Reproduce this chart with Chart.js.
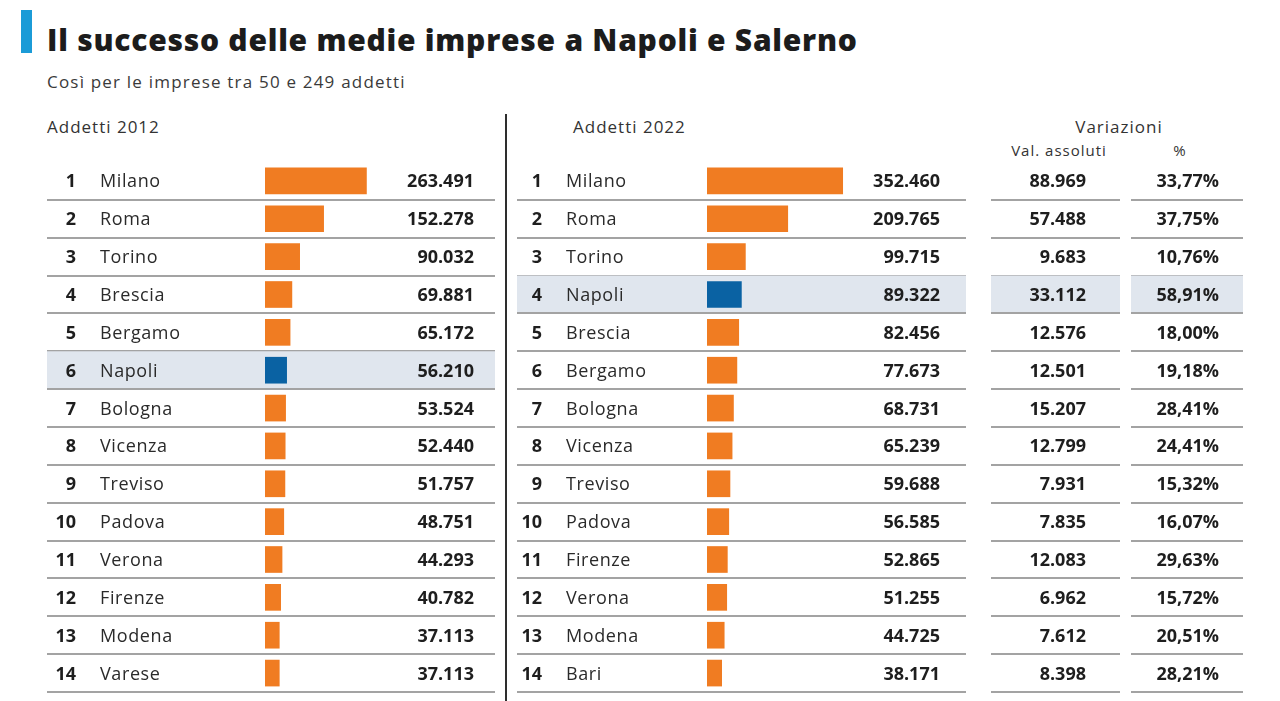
<!DOCTYPE html>
<html lang="it">
<head>
<meta charset="utf-8">
<title>Il successo delle medie imprese a Napoli e Salerno</title>
<script src="https://cdn.jsdelivr.net/npm/chart.js@4.4.1/dist/chart.umd.min.js"></script>
<style>
  html, body { margin: 0; padding: 0; background: #fff; }
  body {
    width: 1280px; height: 701px; position: relative; overflow: hidden;
    font-family: "Open Sans", sans-serif; color: #2b2b2b;
  }
  .txt { position: absolute; margin: 0; white-space: nowrap; line-height: 1; }
  .accent { position: absolute; left: 21px; top: 10px; width: 11px; height: 43px; background: #1b9bd7; }
  h1.txt { left: 47px; top: 25px; font-size: 30px; font-weight: 800; color: #1c1c1c; letter-spacing: 0.75px; }
  .sub { left: 47px; top: 73px; font-size: 17px; color: #3a3a3a; letter-spacing: 1.2px; }
  .head { top: 118px; font-size: 17px; color: #333; letter-spacing: 1px; }
  .head2 { top: 143px; font-size: 15px; color: #333; letter-spacing: 1px; }
  .divider { position: absolute; left: 505px; top: 114px; width: 2px; height: 587px; background: #2e2e2e; }
  canvas { position: absolute; top: 0; }
</style>
</head>
<body>
<div class="accent"></div>
<h1 class="txt">Il successo delle medie imprese a Napoli e Salerno</h1>
<div class="txt sub">Così per le imprese tra 50 e 249 addetti</div>
<div class="txt head" style="left:47px">Addetti 2012</div>
<div class="txt head" style="left:573px">Addetti 2022</div>
<div class="txt head" style="left:1119px; transform:translateX(-50%)">Variazioni</div>
<div class="txt head2" style="left:1059px; transform:translateX(-50%)">Val. assoluti</div>
<div class="txt head2" style="left:1180px; transform:translateX(-50%)">%</div>
<div class="divider"></div>
<canvas id="left" width="507" height="701" style="left:0"></canvas>
<canvas id="right" width="773" height="701" style="left:507px"></canvas>
<script>
const cities2012 = ["Milano", "Roma", "Torino", "Brescia", "Bergamo", "Napoli", "Bologna",
  "Vicenza", "Treviso", "Padova", "Verona", "Firenze", "Modena", "Varese"]
const addetti2012 = [263491, 152278, 90032, 69881, 65172, 56210, 53524,
  52440, 51757, 48751, 44293, 40782, 37113, 37113]

const cities2022 = ["Milano", "Roma", "Torino", "Napoli", "Brescia", "Bergamo", "Bologna",
  "Vicenza", "Treviso", "Padova", "Firenze", "Verona", "Modena", "Bari"]
const addetti2022 = [352460, 209765, 99715, 89322, 82456, 77673, 68731,
  65239, 59688, 56585, 52865, 51255, 44725, 38171]
const variazioniAssolute = [88969, 57488, 9683, 33112, 12576, 12501, 15207,
  12799, 7931, 7835, 12083, 6962, 7612, 8398]
const variazioniPct = [33.77, 37.75, 10.76, 58.91, 18.00, 19.18, 28.41,
  24.41, 15.32, 16.07, 29.63, 15.72, 20.51, 28.21]

const highlight = "Napoli"

const orange = "#f07c22"
const blue = "#0a62a3"
const rowFill = "#e0e6ee"
const lineColor = "#a3a3a3"
const font = '"Open Sans", sans-serif'

const fmtInt = n => String(n).replace(/\B(?=(\d{3})+(?!\d))/g, ".")
const fmtPct = n => n.toFixed(2).replace(".", ",") + "%"

// draws row fills, separators and all the table text around the bars
const tablePlugin = {
  id: "table",
  beforeDatasetsDraw(chart, args, opts) {
    const { ctx } = chart
    const y = chart.scales.y
    const labels = chart.data.labels
    const band = labels.length > 1 ? y.getPixelForValue(1) - y.getPixelForValue(0) : 38
    ctx.save()
    labels.forEach((name, i) => {
      const cy = y.getPixelForValue(i)
      if (name === highlight) {
        ctx.fillStyle = rowFill
        opts.segments.forEach(([x0, x1]) => ctx.fillRect(x0, cy - band / 2, x1 - x0, band))
      }
      ctx.strokeStyle = lineColor
      ctx.lineWidth = 2
      opts.segments.forEach(([x0, x1]) => {
        ctx.beginPath()
        ctx.moveTo(x0, Math.round(cy + band / 2))
        ctx.lineTo(x1, Math.round(cy + band / 2))
        ctx.stroke()
      })
    })
    ctx.restore()
  },
  afterDatasetsDraw(chart, args, opts) {
    const { ctx } = chart
    const y = chart.scales.y
    const values = chart.data.datasets[0].data
    ctx.save()
    ctx.textBaseline = "alphabetic"
    chart.data.labels.forEach((name, i) => {
      const by = y.getPixelForValue(i) + 6.5
      ctx.font = "bold 18px " + font
      ctx.letterSpacing = "0px"
      ctx.textAlign = "right"
      ctx.fillStyle = "#1e1e1e"
      ctx.fillText(String(i + 1), opts.rankX, by)
      ctx.fillText(fmtInt(values[i]), opts.valueX, by)
      ;(opts.extra || []).forEach(col => ctx.fillText(col.format(col.data[i]), col.x, by))
      ctx.font = "18px " + font
      ctx.letterSpacing = "0.6px"
      ctx.textAlign = "left"
      ctx.fillStyle = "#2a2a2a"
      ctx.fillText(name, opts.nameX, by)
    })
    ctx.restore()
  }
}

function makeChart(el, labels, data, pad, table) {
  return new Chart(el, {
    type: "bar",
    data: {
      labels,
      datasets: [{
        data,
        backgroundColor: ctx => labels[ctx.dataIndex] === highlight ? blue : orange,
        barThickness: 26,
        borderWidth: 0
      }]
    },
    options: {
      indexAxis: "y",
      responsive: false,
      animation: false,
      layout: { padding: pad },
      plugins: { legend: { display: false }, tooltip: { enabled: false }, table },
      scales: {
        x: { display: false, min: 0, max: 600000 },
        y: { display: false }
      }
    },
    plugins: [tablePlugin]
  })
}

makeChart(document.getElementById("left"), cities2012, addetti2012,
  { left: 265, right: 11, top: 162, bottom: 9 },
  { segments: [[47, 495]], rankX: 76, nameX: 100, valueX: 474 })

makeChart(document.getElementById("right"), cities2022, addetti2022,
  { left: 200, right: 342, top: 162, bottom: 9 },
  {
    segments: [[10, 459], [484, 613], [624, 736]],
    rankX: 35, nameX: 59, valueX: 433,
    extra: [
      { data: variazioniAssolute, format: fmtInt, x: 579 },
      { data: variazioniPct, format: fmtPct, x: 712 }
    ]
  })
</script>
</body>
</html>
